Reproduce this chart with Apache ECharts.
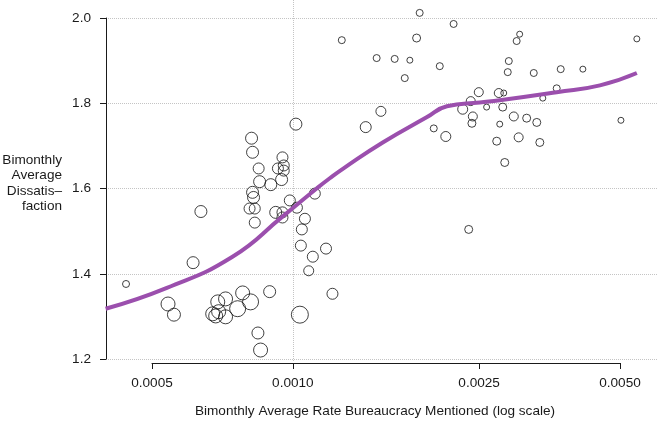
<!DOCTYPE html>
<html>
<head>
<meta charset="utf-8">
<script src="https://cdn.jsdelivr.net/npm/echarts@6/dist/echarts.min.js"></script>
<style>
  html, body { margin: 0; padding: 0; background: #fff; }
  #chart { width: 658px; height: 423px; }
</style>
</head>
<body>
<div id="chart"></div>
<script>
// bimonthly average rate bureaucracy mentioned (x, log scale)
const rateValues = [
  0.00044, 0.000541, 0.000557, 0.000612, 0.000636, 0.000674, 0.000684, 0.000694, 0.000718, 0.000691,
  0.000718, 0.000781, 0.000812, 0.000762, 0.000892, 0.000842, 0.000853, 0.001035, 0.000816, 0.00082,
  0.000845, 0.00095, 0.000956, 0.000929, 0.000956, 0.000946, 0.000849, 0.000897, 0.00082, 0.000824,
  0.000808, 0.000829, 0.000829, 0.000919, 0.00095, 0.00095, 0.000985, 0.00102, 0.001015, 0.001114,
  0.001061, 0.001045, 0.00104, 0.001177, 0.001103, 0.001081, 0.001215, 0.001272, 0.001431, 0.001542,
  0.00151, 0.00165, 0.001778, 0.001734, 0.001838, 0.001866, 0.00206, 0.002205, 0.002, 0.002122,
  0.002306, 0.002399, 0.002496, 0.002424, 0.002413, 0.002375, 0.002594, 0.002754, 0.002822, 0.002808,
  0.002767, 0.002726, 0.002836, 0.002965, 0.003159, 0.00332, 0.003037, 0.00337, 0.003052, 0.003007,
  0.002893, 0.002878, 0.003271, 0.003735, 0.004165, 0.003662, 0.00342, 0.005023, 0.005432
];
// bimonthly average dissatisfaction (y)
const dissatValues = [
  1.376, 1.329, 1.304, 1.426, 1.546, 1.306, 1.301, 1.311, 1.299, 1.334,
  1.341, 1.355, 1.334, 1.318, 1.358, 1.261, 1.221, 1.304, 1.718, 1.685,
  1.647, 1.673, 1.654, 1.647, 1.642, 1.621, 1.616, 1.609, 1.591, 1.579,
  1.553, 1.553, 1.52, 1.544, 1.544, 1.532, 1.572, 1.555, 1.751, 1.588,
  1.529, 1.504, 1.466, 1.459, 1.44, 1.407, 1.353, 1.948, 1.744, 1.781,
  1.906, 1.904, 1.901, 1.859, 1.953, 2.012, 1.887, 1.986, 1.741, 1.722,
  1.786, 1.805, 1.826, 1.769, 1.753, 1.504, 1.791, 1.824, 1.824, 1.791,
  1.751, 1.711, 1.661, 1.769, 1.765, 1.755, 1.72, 1.708, 1.962, 1.946,
  1.899, 1.873, 1.871, 1.88, 1.88, 1.835, 1.812, 1.76, 1.951
];
// bubble weight of each period
const weights = [
  3.5, 7, 6.5, 6, 6, 7, 7, 7, 7, 7,
  7, 7, 8, 8, 6, 6, 7, 8.5, 6, 6,
  5.5, 5.5, 5.5, 5.5, 5.5, 6, 6, 6, 6, 6,
  5.5, 5.5, 5.5, 6, 5.5, 5.5, 5.5, 5.5, 6, 5.5,
  5.5, 5.5, 5.5, 5.5, 5.5, 5, 5.5, 3.5, 5.5, 5,
  3.5, 3.5, 3, 3.5, 4, 3.5, 3.5, 3.5, 3.5, 5,
  5, 4.5, 4.5, 4.5, 4, 4, 3, 4.5, 3, 4,
  3, 4, 4, 4.5, 4, 4, 4.5, 4, 3, 3.5,
  3.5, 3.5, 3.5, 3.5, 3, 3.5, 3, 3, 3
];
// smoothed fit
const fitRate = [0.000398, 0.000538, 0.000743, 0.00095, 0.001124, 0.001199, 0.00129, 0.001556,
  0.001931, 0.002133, 0.002509, 0.002766, 0.003662, 0.00453, 0.005432];
const fitDissat = [1.318, 1.367, 1.44, 1.534, 1.6, 1.624, 1.649, 1.708,
  1.767, 1.793, 1.802, 1.807, 1.826, 1.842, 1.871];

const xTickValues = [0.0005, 0.001, 0.0025, 0.005];
const xTickLabels = ['0.0005', '0.0010', '0.0025', '0.0050'];
const yTickLabels = ['1.2', '1.4', '1.6', '1.8', '2.0'];

const font = 'Liberation Sans, Arial, sans-serif';
const fontSize = 13.6;
const ink = '#1a1a1a';
const gridGrey = '#c4c4c4';

// plot region: axes span [axisLeft, axisRight], the region itself [regionLeft, regionRight]
const axisLeft = 152;
const axisRight = 620;
const regionLeft = 106;
const regionRight = 657;
const pxPerDecade = (axisRight - axisLeft) / Math.log10(xTickValues[3] / xTickValues[0]);
const regionMin = xTickValues[0] * Math.pow(10, -(axisLeft - regionLeft) / pxPerDecade);
const regionMax = xTickValues[3] * Math.pow(10, (regionRight - axisRight) / pxPerDecade);

const chart = echarts.init(document.getElementById('chart'));

function xLabel(v) {
  for (let i = 0; i < xTickValues.length; i++) {
    if (Math.abs(Math.log(v / xTickValues[i])) < 1e-6) return xTickLabels[i];
  }
  return '';
}

chart.setOption({
  animation: false,
  grid: [
    // axes + points
    { left: axisLeft, width: axisRight - axisLeft, top: 18, height: 341, outerBoundsMode: 'none' },
    // whole plot region: horizontal guide lines and the fit line
    { left: regionLeft, width: regionRight - regionLeft, top: 18, height: 341, outerBoundsMode: 'none' },
    // vertical guide line at 0.001
    { left: axisLeft, width: axisRight - axisLeft, top: 0, height: 361, outerBoundsMode: 'none' },
  ],
  xAxis: [
    {
      gridIndex: 0,
      type: 'log',
      min: xTickValues[0],
      max: xTickValues[3],
      offset: 4,
      axisLine: { show: true, lineStyle: { color: ink, width: 1 } },
      axisTick: { show: true, length: 6, customValues: xTickValues, lineStyle: { color: ink } },
      axisLabel: {
        customValues: xTickValues,
        formatter: xLabel,
        margin: 13,
        color: ink,
        fontFamily: font,
        fontSize: fontSize,
      },
      splitLine: { show: false },
    },
    {
      gridIndex: 1,
      type: 'log',
      min: regionMin,
      max: regionMax,
      show: false,
    },
    {
      gridIndex: 2,
      type: 'log',
      min: xTickValues[0],
      max: xTickValues[3],
      axisLine: { show: false },
      axisTick: { show: false },
      axisLabel: { show: false },
      splitLine: {
        show: true,
        showMinLine: false,
        showMaxLine: false,
        lineStyle: { color: gridGrey, type: 'dotted', width: 1 },
      },
    },
  ],
  yAxis: [
    {
      gridIndex: 0,
      type: 'value',
      min: 1.2,
      max: 2.0,
      interval: 0.2,
      offset: axisLeft - regionLeft,
      axisLine: { show: true, lineStyle: { color: ink, width: 1 } },
      axisTick: { show: true, length: 6, lineStyle: { color: ink } },
      axisLabel: {
        formatter: (v) => yTickLabels[Math.round((v - 1.2) / 0.2)],
        margin: 15,
        color: ink,
        fontFamily: font,
        fontSize: fontSize,
        showMinLabel: true,
        showMaxLabel: true,
      },
      splitLine: { show: false },
    },
    {
      gridIndex: 1,
      type: 'value',
      min: 1.2,
      max: 2.0,
      interval: 0.2,
      axisLine: { show: false },
      axisTick: { show: false },
      axisLabel: { show: false },
      splitLine: { show: true, lineStyle: { color: gridGrey, type: 'dotted', width: 1 } },
    },
    {
      gridIndex: 2,
      type: 'value',
      min: 0,
      max: 1,
      show: false,
    },
  ],
  graphic: [
    {
      type: 'text',
      x: 62,
      y: 183,
      style: {
        text: 'Bimonthly\nAverage\nDissatis–\nfaction',
        textAlign: 'right',
        textVerticalAlign: 'middle',
        lineHeight: 15.5,
        fill: ink,
        font: fontSize + 'px ' + font,
      },
    },
    {
      type: 'text',
      x: 375,
      y: 411,
      style: {
        text: 'Bimonthly Average Rate Bureaucracy Mentioned (log scale)',
        textAlign: 'center',
        textVerticalAlign: 'middle',
        fill: ink,
        font: fontSize + 'px ' + font,
      },
    },
  ],
  series: [
    {
      type: 'scatter',
      xAxisIndex: 0,
      yAxisIndex: 0,
      clip: false,
      silent: true,
      z: 3,
      data: rateValues.map((x, i) => [x, dissatValues[i], weights[i]]),
      symbol: 'circle',
      symbolSize: (d) => d[2] * 2,
      itemStyle: { color: 'rgba(0,0,0,0)', borderColor: '#111', borderWidth: 1 },
    },
    {
      type: 'line',
      xAxisIndex: 1,
      yAxisIndex: 1,
      clip: false,
      silent: true,
      z: 4,
      smooth: 0.5,
      showSymbol: false,
      data: fitRate.map((x, i) => [x, fitDissat[i]]),
      lineStyle: { color: '#9b4fad', width: 4 },
    },
  ],
});
</script>
</body>
</html>
